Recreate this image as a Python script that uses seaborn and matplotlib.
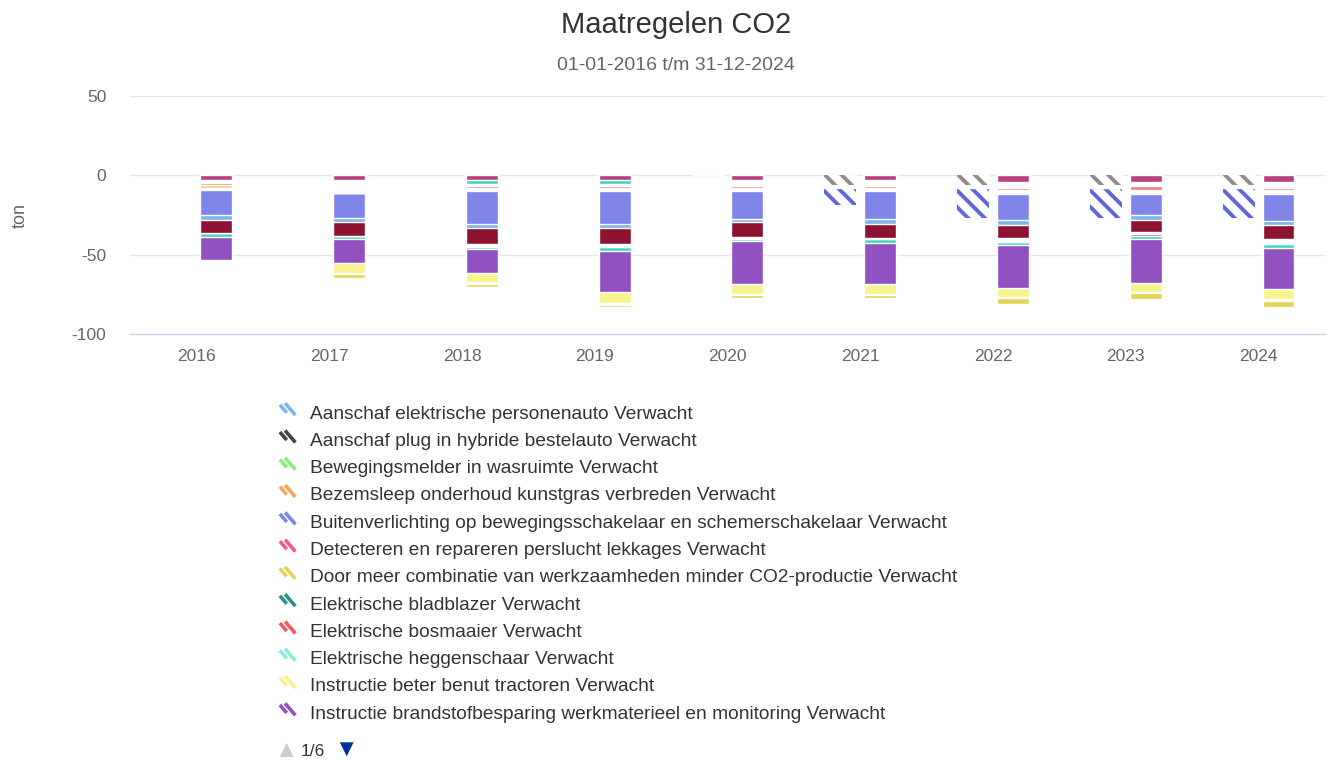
import numpy as np
import pandas as pd
import seaborn as sns
import matplotlib.pyplot as plt
from matplotlib.patches import Patch
from matplotlib.lines import Line2D
from matplotlib.legend_handler import HandlerBase

nan = np.nan

years = ['2016', '2017', '2018', '2019', '2020', '2021', '2022', '2023', '2024']
stacks = ['Verwacht', 'Gerealiseerd']

# Verwacht stack (hatched), ton CO2 reduction, listed from 0 downwards
plug_in_verwacht = [nan, nan, nan, nan, 0, 6.0, 6.0, 6.0, 6.0]
gap_verwacht = [nan, nan, nan, nan, 0, 1.7, 1.7, 1.7, 1.7]
buitenverlichting_verwacht = [nan, nan, nan, nan, 0, 11.2, 19.5, 19.5, 19.5]

# Gerealiseerd stack (solid), listed from 0 downwards
magenta = [3.1, 3.1, 3.1, 3.1, 3.1, 3.1, 4.2, 4.2, 4.2]
teal_top = [0, 0, 2.1, 2.1, 0, 0, 0, 0, 0]
gap_a = [1.7, 7.8, 1.5, 1.5, 3.6, 3.6, 3.5, 2.7, 3.5]
salmon = [1.5, 0, 1.5, 1.5, 1.5, 1.5, 1.5, 2.3, 1.5]
yellow_top = [1.9, 0, 0, 0, 0, 0, 0, 0, 0]
gap_b = [0.8, 0, 1.7, 1.7, 1.7, 1.7, 2.7, 2.7, 2.7]
blue = [16.2, 16.3, 20.5, 20.5, 17.6, 17.6, 16.4, 13.3, 17.0]
light_blue = [3.1, 2.2, 2.9, 3.1, 2.1, 2.9, 3.0, 3.1, 2.5]
dark_red = [8.0, 9.0, 10.1, 9.9, 9.0, 9.0, 8.1, 7.1, 9.0]
gap_c = [0, 0, 1.7, 1.9, 1.5, 0.9, 2.6, 1.7, 2.8]
pink = [0, 0, 0, 0, 0, 0, 0, 1.3, 0]
teal = [2.3, 2.0, 1.6, 2.3, 1.4, 2.3, 1.6, 2.0, 2.5]
purple = [14.9, 15.1, 14.7, 26.2, 27.2, 26.1, 27.3, 27.3, 26.0]
light_yellow = [0, 5.9, 6.1, 6.9, 6.1, 6.1, 5.8, 6.1, 6.1]
gap_d = [0, 0.9, 0.9, 0.9, 0.7, 0.7, 0.9, 0.6, 1.6]
dark_yellow = [0, 2.3, 2.2, 1.2, 2.0, 2.0, 3.3, 3.4, 3.4]

legend_labels = [
    'Aanschaf elektrische personenauto Verwacht',
    'Aanschaf plug in hybride bestelauto Verwacht',
    'Bewegingsmelder in wasruimte Verwacht',
    'Bezemsleep onderhoud kunstgras verbreden Verwacht',
    'Buitenverlichting op bewegingsschakelaar en schemerschakelaar Verwacht',
    'Detecteren en repareren perslucht lekkages Verwacht',
    'Door meer combinatie van werkzaamheden minder CO2-productie Verwacht',
    'Elektrische bladblazer Verwacht',
    'Elektrische bosmaaier Verwacht',
    'Elektrische heggenschaar Verwacht',
    'Instructie beter benut tractoren Verwacht',
    'Instructie brandstofbesparing werkmaterieel en monitoring Verwacht',
]
legend_colors = ['#7cb5ec', '#434348', '#90ed7d', '#f7a35c', '#8085e9', '#f15c80',
                 '#e4d354', '#2b908f', '#f45b5b', '#91e8e1', '#f7f38e', '#9151c0']

sns.set_theme(style='white')
plt.rcParams['font.family'] = ['Liberation Sans', 'DejaVu Sans']
plt.rcParams['axes.unicode_minus'] = False
plt.rcParams['hatch.linewidth'] = 2.8

fig = plt.figure(figsize=(13.29, 7.63), dpi=100)
ax = fig.add_axes([130 / 1329, 1 - 334 / 763, 1195 / 1329, 238 / 763])

verwacht_layers = [
    (plug_in_verwacht, '#958a90', True),
    (gap_verwacht, 'white', False),
    (buitenverlichting_verwacht, '#6166e0', True),
]
realised_layers = [
    (magenta, '#b7407e', False), (teal_top, '#40d8c0', False), (gap_a, 'white', False),
    (salmon, '#f37f7b', False), (yellow_top, '#f3d27a', False), (gap_b, 'white', False),
    (blue, '#8085e9', False), (light_blue, '#7cb5ec', False), (dark_red, '#8d1232', False),
    (gap_c, 'white', False), (pink, '#c45a8a', False), (teal, '#3ed6c0', False),
    (purple, '#9151c0', False), (light_yellow, '#f7f38e', False), (gap_d, 'white', False),
    (dark_yellow, '#e4d354', False),
]


def draw_stack(layers, stack):
    cum = np.cumsum([np.array(v, dtype=float) for v, _, _ in layers], axis=0)
    # draw outermost totals first, inner layers paint over them
    for (vals, color, hatched), tot in reversed(list(zip(layers, cum))):
        df = pd.DataFrame({'jaar': years, 'ton': -tot, 'stack': stack})
        n0 = len(ax.patches)
        sns.barplot(data=df, x='jaar', y='ton', hue='stack', hue_order=stacks,
                    palette={s: color for s in stacks}, dodge=True, width=0.6, gap=0.2,
                    saturation=1, errorbar=None, legend=False,
                    edgecolor='white', linewidth=1, ax=ax, zorder=3)
        if hatched:
            for p in ax.patches[n0:]:
                p.set_facecolor('white')
                p.set_edgecolor(color)
                p.set_linewidth(0)
                p.set_hatch('\\\\')


draw_stack(verwacht_layers, 'Verwacht')
draw_stack(realised_layers, 'Gerealiseerd')

ax.set_xlim(-0.5, 8.5)
ax.set_ylim(-100, 50)
ax.set_yticks([-100, -50, 0, 50])
ax.yaxis.grid(True, color='#e6e6e6', linewidth=1)
ax.set_axisbelow(True)
for s in ['top', 'right', 'left']:
    ax.spines[s].set_visible(False)
ax.spines['bottom'].set_color('#ccd6eb')
ax.spines['bottom'].set_linewidth(1)
ax.spines['bottom'].set_zorder(4)
ax.tick_params(axis='both', length=0, labelsize=12.5, labelcolor='#666666')
ax.tick_params(axis='y', pad=17)
ax.tick_params(axis='x', pad=11)
ax.set_xlabel('')
ax.set_ylabel('')

fig.text(20 / 1329, 1 - 215 / 763, 'ton', rotation=90, ha='center', va='center',
         fontsize=13, color='#666666')
fig.text(676 / 1329, 1 - 25 / 763, 'Maatregelen CO2', ha='center', va='center',
         fontsize=21, color='#333333')
fig.text(676 / 1329, 1 - 65 / 763, '01-01-2016 t/m 31-12-2024', ha='center', va='center',
         fontsize=14, color='#666666')


class HatchSymbol(HandlerBase):
    # two short diagonal strokes, like the pattern swatch of the original legend
    def create_artists(self, legend, orig_handle, xdescent, ydescent, width, height,
                       fontsize, trans):
        c = orig_handle.get_edgecolor()
        x0, y0 = -xdescent, -ydescent
        lines = []
        for (a, b), (p, q) in [((0.05, 0.95), (0.45, 0.45)), ((0.35, 1.05), (0.95, 0.3))]:
            ln = Line2D([x0 + a * width, x0 + p * width], [y0 + b * height, y0 + q * height],
                        color=c, lw=2.6, solid_capstyle='butt', transform=trans)
            lines.append(ln)
        return lines


handles = [Patch(facecolor='white', edgecolor=c) for c in legend_colors]
leg = fig.legend(handles, legend_labels, loc='upper left',
                 bbox_to_anchor=(279 / 1329, 1 - 404 / 763), frameon=False,
                 fontsize=13.8, labelcolor='#333333', handlelength=0.9, handleheight=0.9,
                 handletextpad=0.72, labelspacing=0.455, borderpad=0, borderaxespad=0,
                 handler_map={Patch: HatchSymbol()})

fig.text(286 / 1329, 1 - 751 / 763, '▲', ha='center', va='center', fontsize=17, color='#cccccc')
fig.text(301 / 1329, 1 - 752 / 763, '1/6', ha='left', va='center', fontsize=12.5, color='#333333')
fig.text(346 / 1329, 1 - 751 / 763, '▼', ha='center', va='center', fontsize=17, color='#003399')

fig.savefig('out.png', dpi=100, facecolor='white')
